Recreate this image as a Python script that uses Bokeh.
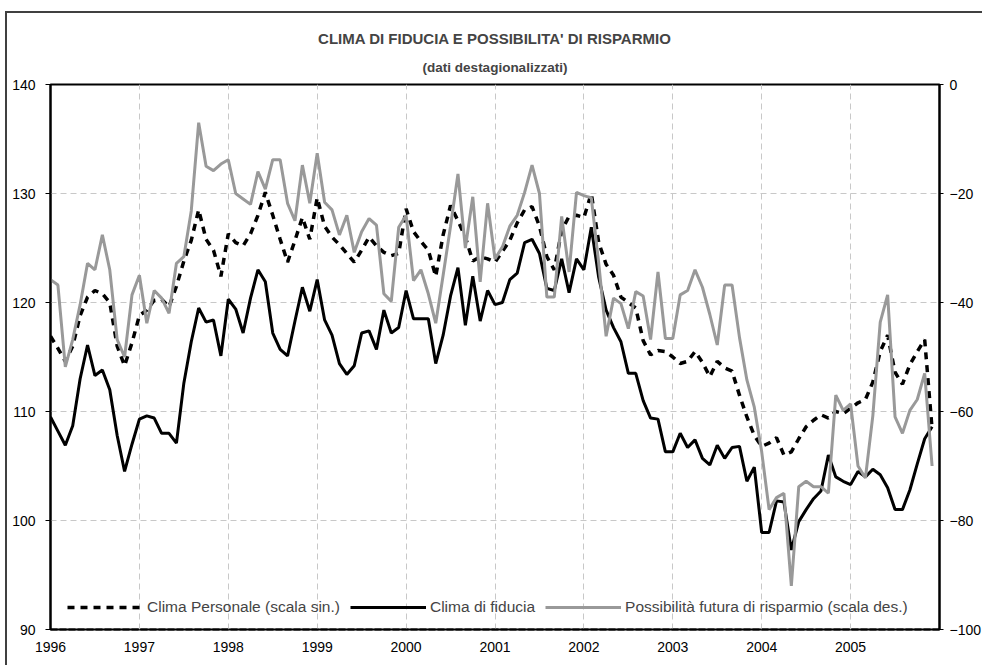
from bokeh.plotting import figure
from bokeh.models import (Range1d, LinearAxis, FixedTicker, Legend, LegendItem,
                          ColumnDataSource, Title)
from bokeh.embed import file_html
from bokeh.resources import INLINE

# ---------------- data ----------------
years = ["1996", "1997", "1998", "1999", "2000", "2001", "2002", "2003", "2004", "2005"]
months = [f"{y}-{m:02d}" for y in years for m in range(1, 13)]

clima_personale = [
    116.9, 115.8, 114.6, 116.0, 118.8, 120.5, 121.1, 120.8, 120.0, 116.0, 114.2, 116.3,
    118.8, 119.3, 120.2, 120.3, 119.6, 121.5, 123.8, 125.7, 128.5, 125.8, 124.8, 122.4,
    126.3, 125.5, 125.2, 126.3, 128.0, 130.1, 128.0, 125.8, 123.7, 125.7, 127.8, 125.8,
    129.6, 127.0, 126.0, 125.3, 124.5, 123.7, 124.8, 126.0, 125.2, 124.6, 124.3, 124.5,
    128.6, 126.5, 125.6, 124.8, 122.4, 126.2, 128.9, 127.5, 126.0, 123.8, 124.2, 124.0,
    123.7, 124.7, 125.7, 127.3, 128.5, 128.8, 127.0, 124.2, 123.0, 126.6, 127.9, 128.0,
    127.8, 130.0, 125.5, 123.5, 122.5, 120.5, 120.0, 119.5, 116.5, 115.2, 115.6, 115.5,
    115.0, 114.4, 114.6, 115.5, 114.5, 113.2, 114.6, 114.0, 113.7, 111.5, 109.5, 107.8,
    106.8, 107.1, 107.6, 106.0, 106.3, 107.5, 108.6, 109.2, 109.7, 109.4, 110.0, 109.8,
    110.3, 110.8, 111.1, 112.7, 115.5, 117.0, 113.6, 112.5, 114.3, 115.5, 116.6, 108.4,
]

clima_fiducia = [
    109.5, 108.2, 106.9, 108.7, 113.0, 116.1, 113.3, 113.8, 112.0, 107.8, 104.5, 107.0,
    109.3, 109.6, 109.4, 108.0, 108.0, 107.1, 112.6, 116.4, 119.5, 118.2, 118.4, 115.1,
    120.3, 119.4, 117.2, 120.4, 123.0, 121.9, 117.2, 115.7, 115.1, 118.3, 121.4, 119.2,
    122.1, 118.4, 117.0, 114.4, 113.4, 114.2, 117.2, 117.4, 115.7, 119.3, 117.2, 117.7,
    121.1, 118.5, 118.5, 118.5, 114.4, 117.0, 120.6, 123.2, 117.9, 122.4, 118.3, 121.1,
    119.8, 120.0, 122.1, 122.7, 125.5, 125.8, 124.5, 121.3, 121.1, 124.0, 120.9, 124.0,
    123.0, 126.9, 122.3, 119.3, 117.7, 116.4, 113.5, 113.5, 111.0, 109.4, 109.3, 106.3,
    106.3, 108.0, 106.7, 107.4, 105.7, 105.1, 106.9, 105.7, 106.7, 106.8, 103.6, 104.9,
    98.9, 98.9, 101.8, 101.7, 97.3, 99.9, 101.0, 102.0, 102.7, 106.0, 104.0, 103.6,
    103.3, 104.5, 104.0, 104.7, 104.2, 103.0, 101.0, 101.0, 102.8, 105.2, 107.5, 108.6,
]

possibilita_risparmio = [
    -35.8, -36.8, -51.8, -46.8, -40.4, -32.8, -34.0, -27.6, -34.0, -46.8, -50.0, -38.6,
    -35.0, -43.8, -37.8, -39.2, -42.0, -32.8, -31.6, -23.2, -7.0, -15.0, -15.8, -14.6,
    -13.8, -20.0, -21.0, -22.0, -16.0, -19.2, -13.8, -13.8, -21.8, -25.0, -14.8, -21.8,
    -12.6, -21.6, -23.0, -27.6, -24.0, -30.8, -27.0, -24.6, -25.8, -38.4, -39.8, -26.2,
    -24.0, -36.0, -34.0, -38.4, -43.8, -35.0, -26.0, -16.4, -30.0, -20.6, -36.2, -21.8,
    -32.0, -29.8, -26.0, -24.0, -19.8, -14.8, -20.0, -39.0, -39.0, -24.2, -34.4, -19.8,
    -20.4, -20.8, -32.8, -46.2, -39.2, -40.2, -44.8, -38.0, -38.8, -46.8, -34.4, -46.6,
    -46.6, -38.6, -37.8, -34.0, -37.2, -42.2, -47.8, -36.8, -36.8, -46.4, -54.2, -59.2,
    -67.4, -78.0, -75.8, -75.0, -92.0, -73.8, -72.8, -73.8, -73.8, -75.0, -57.0, -59.8,
    -58.6, -70.0, -72.2, -60.8, -43.6, -38.6, -61.0, -64.0, -59.8, -57.8, -53.0, -70.0,
]

left_ticks = [90, 100, 110, 120, 130, 140]
right_ticks = [-100, -80, -60, -40, -20, 0]

title_text = "CLIMA DI FIDUCIA E POSSIBILITA' DI RISPARMIO"
subtitle_text = "(dati destagionalizzati)"

# ---------------- figure ----------------
FONT = "Liberation Sans"
x_index = list(range(len(months)))
year_pos = [months.index(f"{y}-01") for y in years]

src = ColumnDataSource(dict(x=x_index, pers=clima_personale, fid=clima_fiducia,
                            risp=possibilita_risparmio))

p = figure(width=977, height=654, output_backend="svg", toolbar_location=None,
           x_range=Range1d(0, len(months)), y_range=Range1d(90, 140),
           min_border_left=43, min_border_right=41, min_border_bottom=38,
           min_border_top=71)
p.extra_y_ranges = {"right": Range1d(-100, 0)}

p.styles = {"margin-left": "5px", "margin-top": "11px",
            "border-top": "2px solid #404040", "border-left": "2px solid #404040"}

p.title.text = title_text
p.title.align = "center"
p.title.text_font = FONT
p.title.text_font_size = "15px"
p.title.text_font_style = "bold"
p.title.standoff = 1
p.add_layout(Title(text=subtitle_text, align="center",
                   text_font=FONT, text_font_size="13.5px", text_font_style="bold",
                   standoff=20), "above")

p.outline_line_color = "black"
p.outline_line_width = 2
p.background_fill_color = "white"
p.border_fill_color = "white"

# x axis
p.xaxis.ticker = FixedTicker(ticks=year_pos)
p.xaxis.major_label_overrides = {pos: y for pos, y in zip(year_pos, years)}
p.xaxis.major_tick_out = 0
p.xaxis.major_tick_in = 0
p.xaxis.minor_tick_line_color = None
p.xaxis.axis_line_color = "black"
p.xaxis.axis_line_width = 2
p.xaxis.axis_line_dash = "7 2"
p.xaxis.major_label_standoff = 12
p.xaxis.major_label_text_font = FONT
p.xaxis.major_label_text_font_size = "14px"
p.xaxis.major_label_text_color = "black"

# left axis
p.yaxis.ticker = FixedTicker(ticks=left_ticks)
p.yaxis.major_tick_out = 5
p.yaxis.major_tick_in = 0
p.yaxis.minor_tick_line_color = None
p.yaxis.axis_line_color = "black"
p.yaxis.axis_line_width = 2
p.yaxis.major_label_standoff = 10
p.yaxis.major_label_text_font = FONT
p.yaxis.major_label_text_font_size = "14px"
p.yaxis.major_label_text_color = "black"

# right axis
ra = LinearAxis(y_range_name="right", ticker=FixedTicker(ticks=right_ticks))
ra.major_tick_out = 4
ra.major_tick_in = 0
ra.minor_tick_line_color = None
ra.axis_line_color = "black"
ra.axis_line_width = 2
ra.major_label_standoff = 6
ra.major_label_text_font = FONT
ra.major_label_text_font_size = "14px"
ra.major_label_text_color = "black"
p.add_layout(ra, "right")

# grids
p.xgrid.ticker = FixedTicker(ticks=year_pos[1:])
p.ygrid.ticker = FixedTicker(ticks=[100, 110, 120, 130])
for g in (p.xgrid, p.ygrid):
    g.grid_line_color = "#c8c8c8"
    g.grid_line_dash = "6 4"
    g.grid_line_width = 1

# series
r_pers = p.line("x", "pers", source=src, line_color="black", line_width=3.5,
                line_dash="7 6")
r_fid = p.line("x", "fid", source=src, line_color="black", line_width=3)
r_risp = p.line("x", "risp", source=src, line_color="#999999", line_width=3,
                y_range_name="right")

legend = Legend(items=[
    LegendItem(label="Clima Personale (scala sin.)", renderers=[r_pers]),
    LegendItem(label="Clima di fiducia", renderers=[r_fid]),
    LegendItem(label="Possibilità futura di risparmio (scala des.)", renderers=[r_risp]),
], orientation="horizontal", location=(17, 12), glyph_width=76, glyph_height=20,
    label_standoff=4, spacing=10, padding=0, margin=0,
    label_text_font=FONT, label_text_font_size="15.5px",
    border_line_alpha=0, background_fill_alpha=0)
p.add_layout(legend, "center")

open("out.html", "w").write(file_html(p, INLINE))
